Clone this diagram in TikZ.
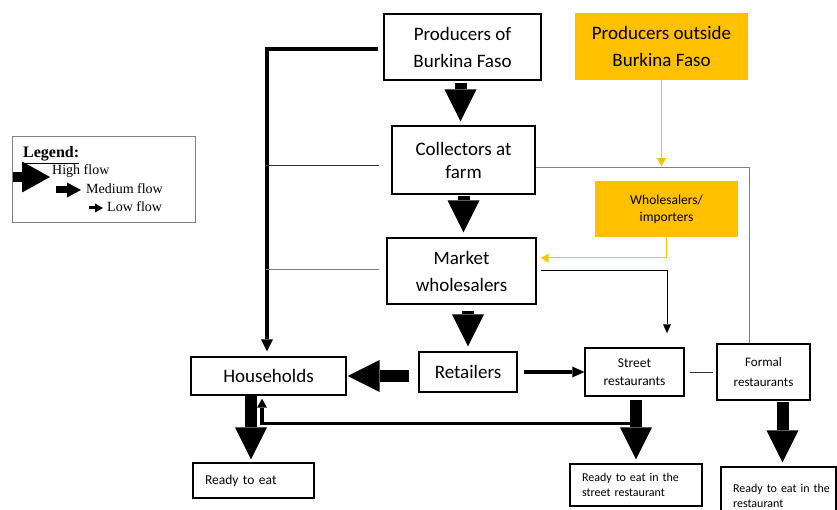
\documentclass[tikz,border=0pt]{standalone}
\usepackage{fontspec}
\setmainfont{Carlito}
\newfontfamily\legfont{Liberation Serif}
\usetikzlibrary{arrows.meta}

\definecolor{gold}{HTML}{FFC000}

\begin{document}
\begin{tikzpicture}[x=1pt,y=-1pt,
  box/.style={draw=black, line width=1.4pt, align=center, inner sep=0pt},
  goldbox/.style={fill=gold, align=center, inner sep=0pt},
  bigtext/.style={font=\fontsize{19}{27}\selectfont},
  readybox/.style={draw=black, line width=1.4pt, align=left, inner xsep=12pt, inner ysep=0pt,
    font=\fontsize{12}{15}\selectfont},
  legtext/.style={font=\legfont\fontsize{14}{16}\selectfont, anchor=base west, inner sep=0pt},
  highflow/.style={line width=12pt, -{Triangle[width=32pt,length=32pt,line width=0pt]}},
  medflow/.style={line width=4pt, line join=miter, -{Triangle[width=12pt,length=12pt,line width=0pt]}},
  retflow/.style={line width=3.5pt, line join=miter, -{Triangle[width=10pt,length=9pt,line width=0pt]}},
  thinline/.style={line width=1pt, draw=black!80},
  greyline/.style={line width=1pt, draw=black!50},
  thinarrow/.style={line width=1pt, -{Triangle[width=8pt,length=9pt,line width=0pt]}},
  goldarrow/.style={line width=1pt, draw=gold, -{Triangle[width=9pt,length=8pt,line width=0pt]}}
]
\useasboundingbox (0,0) rectangle (837,510);
\clip (0,0) rectangle (837,510);

% ---- chain boxes ----
\node[box,bigtext,minimum width=157,minimum height=66] (pbf) at (462.5,47) {Producers of\\Burkina Faso};
\node[goldbox,bigtext,minimum width=173,minimum height=67] (pout) at (661.5,46.5) {Producers outside\\Burkina Faso};
\node[box,font=\fontsize{19}{23}\selectfont,minimum width=143,minimum height=68] (coll) at (463.5,160) {Collectors at\\farm};
\node[goldbox,font=\fontsize{13.5}{17}\selectfont,minimum width=143,minimum height=56] (whol) at (666.5,209) {Wholesalers/\\importers};
\node[box,bigtext,minimum width=149,minimum height=66] (mkt) at (461.5,271) {Market\\wholesalers};
\node[box,bigtext,minimum width=98,minimum height=40] (ret) at (468,372) {Retailers};
\node[box,bigtext,minimum width=155,minimum height=38] (hh) at (268.5,376) {Households};
\node[box,font=\fontsize{13.5}{18}\selectfont,minimum width=99,minimum height=48] (street) at (634.5,372) {Street\\restaurants};
\node[box,font=\fontsize{13}{20}\selectfont,minimum width=93,minimum height=56] (formal) at (763.5,372) {Formal\\restaurants};
\node[readybox,font=\fontsize{13.5}{16}\selectfont,minimum width=121,text width=97,minimum height=35] (rte) at (253.5,480.5) {Ready to eat};
\node[readybox,minimum width=132,text width=108,minimum height=42] (rtes) at (636,485) {\mbox{Ready to eat in the}\\street restaurant};
\node[readybox,minimum width=115,text width=91,minimum height=58] (rter) at (778.5,496) {\mbox{Ready to eat in the}\\restaurant};

% ---- legend ----
\node[draw=black!50, line width=1pt, minimum width=183, minimum height=86, inner sep=0pt] (leg) at (103.5,180) {};
\node[legtext] (legtitle) at (23,158) {\fontsize{16}{17}\selectfont\underline{\textbf{Legend:}}};
\node[legtext] (leghigh) at (52,175) {High flow};
\node[legtext] (legmed) at (86,194) {Medium flow};
\node[legtext] (leglow) at (107,212) {Low flow};
\draw[line width=10pt, -{Triangle[width=31pt,length=28pt,line width=0pt]}] (13,177) -- (50,177);
\draw[line width=7pt, -{Triangle[width=15pt,length=14pt,line width=0pt]}] (56,190) -- (81,190);
\draw[line width=3pt, -{Triangle[width=9pt,length=8pt,line width=0pt]}] (89,208) -- (103,208);

% ---- high flows ----
\draw[highflow, shorten <=2pt, shorten >=4pt] ([xshift=-2pt]pbf.south) -- ([xshift=-2pt]pbf.south |- coll.north);
\draw[highflow, shorten <=1pt, shorten >=5pt] (coll.south) -- (coll.south |- mkt.north);
\draw[highflow, shorten <=6pt, shorten >=5pt] (mkt.south -| ret.north) -- (ret.north);
\draw[highflow, shorten <=9pt, shorten >=1pt] (ret.west |- hh.east) -- (hh.east);
\draw[highflow, shorten >=3pt] ([xshift=-17.5pt]hh.south) -- ([xshift=-2.5pt]rte.north);
\draw[highflow, shorten <=3pt, shorten >=4pt] ([xshift=1.5pt]street.south) -- (rtes.north);
\draw[highflow, shorten <=1pt, shorten >=4pt] ([xshift=19pt]formal.south) -- ([xshift=4pt]rter.north);

% ---- medium and low flows ----
\draw[medflow] ([xshift=-5pt,yshift=-2pt]pbf.west) -| ([xshift=-1.5pt,yshift=5pt]hh.north);
\draw[medflow, line width=3.5pt, -{Triangle[width=11pt,length=12pt,line width=0pt]}] ([xshift=6pt]ret.east) -- (street.west);
\draw[retflow] ([xshift=-3.5pt,yshift=-27pt]street.south) -| ([xshift=-6.5pt,yshift=-3pt]hh.south);

% ---- thin links ----
\draw[thinline] ([xshift=-12pt,yshift=-6pt]coll.west) -- ++(-113,0);
\draw[greyline] ([xshift=-7pt,yshift=1pt]mkt.west) -- ++(-113,0);
\draw[greyline] ([yshift=-8pt]coll.east) -| ([xshift=-14.5pt]formal.north);
\draw[thinarrow] ([xshift=4pt]mkt.east) -| ([xshift=32.5pt,yshift=14pt]street.north);
\draw[thinline] ([xshift=5pt]street.east) -- ([xshift=-3pt]formal.west);

% ---- imports ----
\draw[goldarrow] (pout.south) -- ++(0,86);
\draw[goldarrow] (whol.south) |- ([xshift=4pt,yshift=13pt]mkt.east);
\end{tikzpicture}
\end{document}
